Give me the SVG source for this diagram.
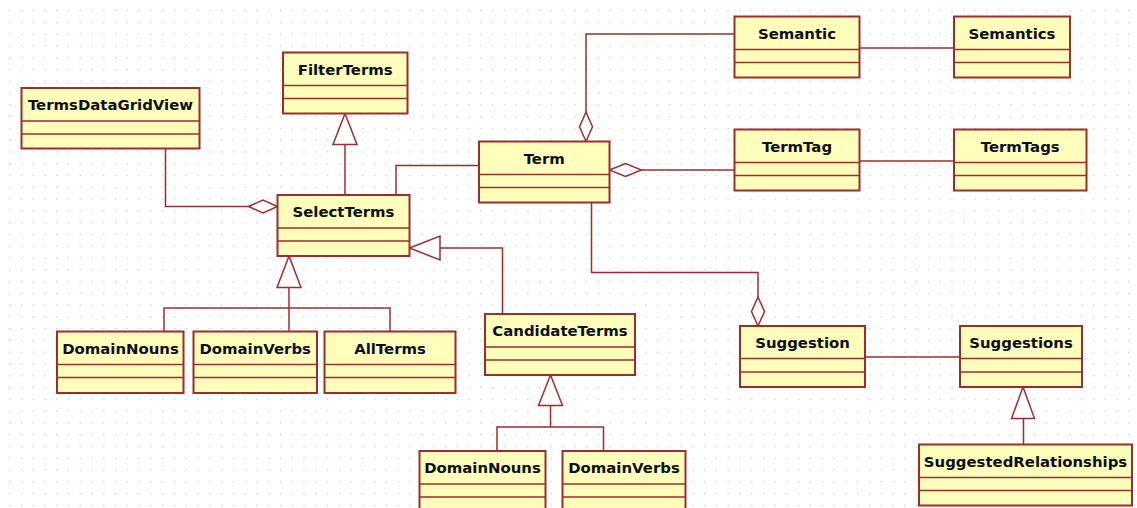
<svg xmlns="http://www.w3.org/2000/svg" width="1137" height="508" viewBox="0 0 1137 508">
  <style>
    .box { fill: #FFFFBB; stroke: #9a2e2e; stroke-width: 2; }
    .sep { stroke: #9a2e2e; stroke-width: 1.6; fill: none; }
    .name { font-family: "DejaVu Sans", Verdana, sans-serif; font-weight: bold; font-size: 14.9px; fill: #0a0f18; text-anchor: middle; }
    .conn path, .conn line { stroke: #9a2e2e; stroke-width: 1.5; fill: none; }
    .conn polygon { stroke: #9a2e2e; stroke-width: 1.5; fill: #ffffff; }
  </style>
  <defs>
    <pattern id="grid" x="9" y="10" width="11.78" height="11.78" patternUnits="userSpaceOnUse">
      <rect x="0" y="0" width="1.2" height="1.2" fill="#c4c4c4"/>
    </pattern>
  </defs>

  <!-- canvas with dotted grid -->
  <rect x="0" y="0" width="1137" height="508" fill="#ffffff"/>
  <rect x="0" y="0" width="1137" height="508" fill="url(#grid)"/>

  <!-- connectors -->
  <g id="connectors" class="conn">
    <!-- TermsDataGridView aggregates SelectTerms -->
    <path d="M165.5 148.5 V206.5 H248.5"/>
    <polygon points="277.5,206.5 263,200 248.5,206.5 263,213"/>

    <!-- SelectTerms generalizes FilterTerms -->
    <line x1="345" y1="195" x2="345" y2="144.5"/>
    <polygon points="345,113.5 333,144.5 357,144.5"/>

    <!-- Term to SelectTerms -->
    <path d="M479 165.5 H396 V195"/>

    <!-- Semantic to Term (aggregation at Term) -->
    <path d="M734.5 34 H586 V112"/>
    <polygon points="586,112 579.5,126.8 586,141.5 592.5,126.8"/>

    <!-- TermTag to Term (aggregation at Term) -->
    <polygon points="609.5,170 625.5,163.5 641.5,170 625.5,176.5"/>
    <path d="M641.5 170 H734.5"/>

    <!-- Semantic - Semantics -->
    <path d="M859.5 48 H954"/>

    <!-- TermTag - TermTags -->
    <path d="M859.5 161 H954"/>

    <!-- CandidateTerms generalizes SelectTerms -->
    <polygon points="409.5,248 440,236 440,260"/>
    <path d="M440 248 H502.5 V314"/>

    <!-- DomainNouns, DomainVerbs, AllTerms generalize SelectTerms -->
    <polygon points="289,256 277,287.5 301,287.5"/>
    <path d="M289 287.5 V331.5"/>
    <path d="M164 331.5 V308 H390 V331.5"/>

    <!-- DomainNouns, DomainVerbs generalize CandidateTerms -->
    <polygon points="550.5,375 538.5,405.5 562.5,405.5"/>
    <path d="M550.5 405.5 V427"/>
    <path d="M497 451 V427 H603.5 V451"/>

    <!-- Term to Suggestion (aggregation at Suggestion) -->
    <path d="M591.5 202.5 V272.5 H758 V297"/>
    <polygon points="758,297 751.5,311.5 758,326 764.5,311.5"/>

    <!-- Suggestion - Suggestions -->
    <path d="M865 357 H960"/>

    <!-- SuggestedRelationships generalizes Suggestions -->
    <polygon points="1023,387 1011.5,418.5 1034.5,418.5"/>
    <path d="M1023.5 418.5 V444.5"/>
  </g>

  <!-- classes -->
  <g id="TermsDataGridView">
    <rect class="box" x="21.5" y="88" width="178" height="60.5"/>
    <path class="sep" d="M21.5 121 H199.5 M21.5 134 H199.5"/>
    <text class="name" x="110.5" y="110">TermsDataGridView</text>
  </g>

  <g id="FilterTerms">
    <rect class="box" x="283" y="52.5" width="124.5" height="61"/>
    <path class="sep" d="M283 85.5 H407.5 M283 98.5 H407.5"/>
    <text class="name" x="345.2" y="74.5">FilterTerms</text>
  </g>

  <g id="SelectTerms">
    <rect class="box" x="277.5" y="195" width="132" height="61"/>
    <path class="sep" d="M277.5 228 H409.5 M277.5 241 H409.5"/>
    <text class="name" x="343.5" y="217">SelectTerms</text>
  </g>

  <g id="Term">
    <rect class="box" x="479" y="141.5" width="130.5" height="61"/>
    <path class="sep" d="M479 174.5 H609.5 M479 187.5 H609.5"/>
    <text class="name" x="544.2" y="163.5">Term</text>
  </g>

  <g id="Semantic">
    <rect class="box" x="734.5" y="16.5" width="125" height="61"/>
    <path class="sep" d="M734.5 49.5 H859.5 M734.5 62.5 H859.5"/>
    <text class="name" x="797" y="38.5">Semantic</text>
  </g>

  <g id="Semantics">
    <rect class="box" x="954" y="16.5" width="116" height="61"/>
    <path class="sep" d="M954 49.5 H1070 M954 62.5 H1070"/>
    <text class="name" x="1012" y="38.5">Semantics</text>
  </g>

  <g id="TermTag">
    <rect class="box" x="734.5" y="129.5" width="125" height="61"/>
    <path class="sep" d="M734.5 162.5 H859.5 M734.5 175.5 H859.5"/>
    <text class="name" x="797" y="151.5">TermTag</text>
  </g>

  <g id="TermTags">
    <rect class="box" x="954" y="129.5" width="132.5" height="61"/>
    <path class="sep" d="M954 162.5 H1086.5 M954 175.5 H1086.5"/>
    <text class="name" x="1020.2" y="151.5">TermTags</text>
  </g>

  <g id="DomainNouns">
    <rect class="box" x="57" y="331.5" width="126.5" height="61.5"/>
    <path class="sep" d="M57 364.5 H183.5 M57 377.5 H183.5"/>
    <text class="name" x="120.5" y="353.5">DomainNouns</text>
  </g>

  <g id="DomainVerbs">
    <rect class="box" x="193.5" y="331.5" width="123.5" height="61.5"/>
    <path class="sep" d="M193.5 364.5 H317 M193.5 377.5 H317"/>
    <text class="name" x="255.2" y="353.5">DomainVerbs</text>
  </g>

  <g id="AllTerms">
    <rect class="box" x="324.5" y="331.5" width="131" height="61.5"/>
    <path class="sep" d="M324.5 364.5 H455.5 M324.5 377.5 H455.5"/>
    <text class="name" x="390" y="353.5">AllTerms</text>
  </g>

  <g id="CandidateTerms">
    <rect class="box" x="485" y="314" width="150" height="61"/>
    <path class="sep" d="M485 347 H635 M485 360 H635"/>
    <text class="name" x="560" y="336">CandidateTerms</text>
  </g>

  <g id="CandidateDomainNouns">
    <rect class="box" x="419.5" y="451" width="126" height="61"/>
    <path class="sep" d="M419.5 484 H545.5 M419.5 497 H545.5"/>
    <text class="name" x="482.5" y="473">DomainNouns</text>
  </g>

  <g id="CandidateDomainVerbs">
    <rect class="box" x="562.5" y="451" width="123" height="61"/>
    <path class="sep" d="M562.5 484 H685.5 M562.5 497 H685.5"/>
    <text class="name" x="624" y="473">DomainVerbs</text>
  </g>

  <g id="Suggestion">
    <rect class="box" x="740" y="326" width="125" height="61"/>
    <path class="sep" d="M740 358.5 H865 M740 372 H865"/>
    <text class="name" x="802.5" y="348">Suggestion</text>
  </g>

  <g id="Suggestions">
    <rect class="box" x="960" y="326" width="122" height="61"/>
    <path class="sep" d="M960 358.5 H1082 M960 372 H1082"/>
    <text class="name" x="1021" y="348">Suggestions</text>
  </g>

  <g id="SuggestedRelationships">
    <rect class="box" x="919" y="444.5" width="213" height="61"/>
    <path class="sep" d="M919 477.5 H1132 M919 490.5 H1132"/>
    <text class="name" x="1025.5" y="466.5">SuggestedRelationships</text>
  </g>
</svg>
